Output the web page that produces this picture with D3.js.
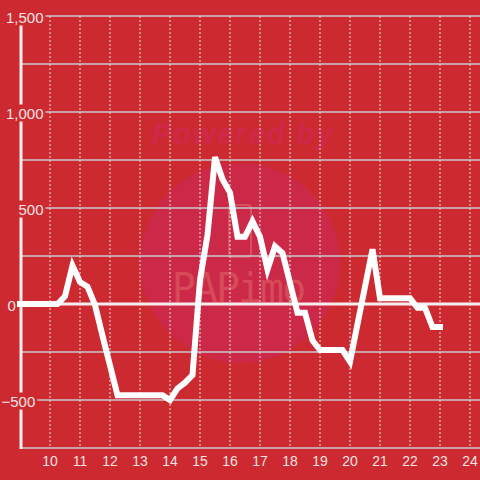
<!DOCTYPE html>
<html>
<head>
<meta charset="utf-8">
<script src="https://cdn.jsdelivr.net/npm/d3@7"></script>
<style>
  body { margin: 0; background: #cc2a30; }
  svg { display: block; font-family: "Liberation Sans", Arial, sans-serif; }
</style>
</head>
<body>
<div id="chart"></div>
<script>
// hour of day (quarter steps) and value
var hours  = [9, 9.25, 9.5, 9.75, 10, 10.25, 10.5, 10.75, 11, 11.25, 11.5, 11.75,
              12, 12.25, 12.5, 12.75, 13, 13.25, 13.5, 13.75, 14, 14.25, 14.5, 14.75,
              15, 15.25, 15.5, 15.75, 16, 16.25, 16.5, 16.75, 17, 17.25, 17.5, 17.75,
              18, 18.25, 18.5, 18.75, 19, 19.25, 19.5, 19.75, 20, 20.25, 20.5, 20.75,
              21, 21.25, 21.5, 21.75, 22, 22.25, 22.5, 22.75, 23];
var values = [0, 0, 0, 0, 0, 0, 40, 200, 115, 90, -5, -165,
              -320, -475, -475, -475, -475, -475, -475, -475, -500, -440, -410, -370,
              125, 360, 765, 650, 580, 350, 350, 430, 350, 180, 300, 265,
              110, -45, -45, -190, -240, -240, -240, -240, -300, -105, 90, 285,
              30, 30, 30, 30, 30, -20, -20, -120, -120];

var xTicks = [10, 11, 12, 13, 14, 15, 16, 17, 18, 19, 20, 21, 22, 23, 24];
var yGrid  = [-750, -500, -250, 0, 250, 500, 750, 1000, 1250, 1500];
var yTicks = [-500, 0, 500, 1000, 1500];

var width = 480, height = 480;
var bg = "#cc2a30";

var x = d3.scaleLinear().domain([9, 24]).range([20, 470]);
var y = d3.scaleLinear().domain([-750, 1500]).range([448, 16]);

var svg = d3.select("#chart").append("svg")
  .attr("width", width)
  .attr("height", height);

svg.append("rect").attr("width", width).attr("height", height).attr("fill", bg);

// watermark
var wm = svg.append("g");
wm.append("circle").attr("cx", 240).attr("cy", 263).attr("r", 100).attr("fill", "#cc2848");
wm.append("text").attr("x", 243).attr("y", 144).attr("text-anchor", "middle")
  .attr("font-size", 29).attr("font-weight", "bold").attr("font-style", "italic")
  .attr("letter-spacing", 2)
  .attr("fill", "#d0284a").text("Powered by");
wm.append("rect").attr("x", 229).attr("y", 205).attr("width", 22).attr("height", 52).attr("rx", 3)
  .attr("fill", "none").attr("stroke", "#d8505e").attr("stroke-width", 2);
wm.append("text").attr("x", 238).attr("y", 302).attr("text-anchor", "middle")
  .attr("font-size", 40).attr("font-family", "DejaVu Sans Mono, monospace")
  .attr("fill", "#d64a5a").attr("letter-spacing", -2).text("PAPimo");

// horizontal grid
svg.append("g").selectAll("line")
  .data(yGrid)
  .enter().append("line")
  .attr("x1", 21).attr("x2", width)
  .attr("y1", function(d) { return y(d); })
  .attr("y2", function(d) { return y(d); })
  .attr("stroke", function(d) { return d === 0 ? "#f6eeee" : "#c9c9cc"; })
  .attr("stroke-width", function(d) { return d === 0 ? 3 : 1.5; });

// vertical dotted grid
svg.append("g").selectAll("line")
  .data(xTicks)
  .enter().append("line")
  .attr("x1", function(d) { return x(d); })
  .attr("x2", function(d) { return x(d); })
  .attr("y1", y(1500)).attr("y2", y(-750))
  .attr("stroke", "#e6dede")
  .attr("stroke-width", 1)
  .attr("stroke-dasharray", "2,2");

// y axis line
svg.append("line")
  .attr("x1", 21).attr("x2", 21)
  .attr("y1", y(1500)).attr("y2", y(-750) + 1)
  .attr("stroke", "#f6eeee").attr("stroke-width", 3);

// y tick labels with background
var yl = svg.append("g").selectAll("g")
  .data(yTicks)
  .enter().append("g");

yl.append("text")
  .attr("x", function(d) { return d > 0 ? 43.5 : (d === 0 ? 7.5 : 1.5); })
  .attr("y", function(d) { return y(d) + 6.5; })
  .attr("text-anchor", function(d) { return d > 0 ? "end" : "start"; })
  .attr("font-size", 15)
  .attr("fill", "#f5e2e2")
  .text(function(d) { return d3.format(",")(d); });

yl.each(function() {
  var g = d3.select(this);
  var b = g.select("text").node().getBBox();
  g.insert("rect", "text")
    .attr("x", b.x - 2).attr("y", b.y)
    .attr("width", b.width + 4).attr("height", b.height)
    .attr("fill", bg);
});

// x tick labels
svg.append("g").selectAll("text")
  .data(xTicks)
  .enter().append("text")
  .attr("x", function(d) { return x(d); })
  .attr("y", 466)
  .attr("text-anchor", "middle")
  .attr("font-size", 14)
  .attr("fill", "#f5e2e2")
  .text(function(d) { return d; });

// series
var line = d3.line()
  .x(function(d, i) { return x(hours[i]); })
  .y(function(d) { return y(d); });

svg.append("path")
  .datum(values)
  .attr("d", line)
  .attr("fill", "none")
  .attr("stroke", "#ffffff")
  .attr("stroke-width", 6)
  .attr("stroke-linejoin", "miter")
  .attr("stroke-linecap", "square");
</script>
</body>
</html>
